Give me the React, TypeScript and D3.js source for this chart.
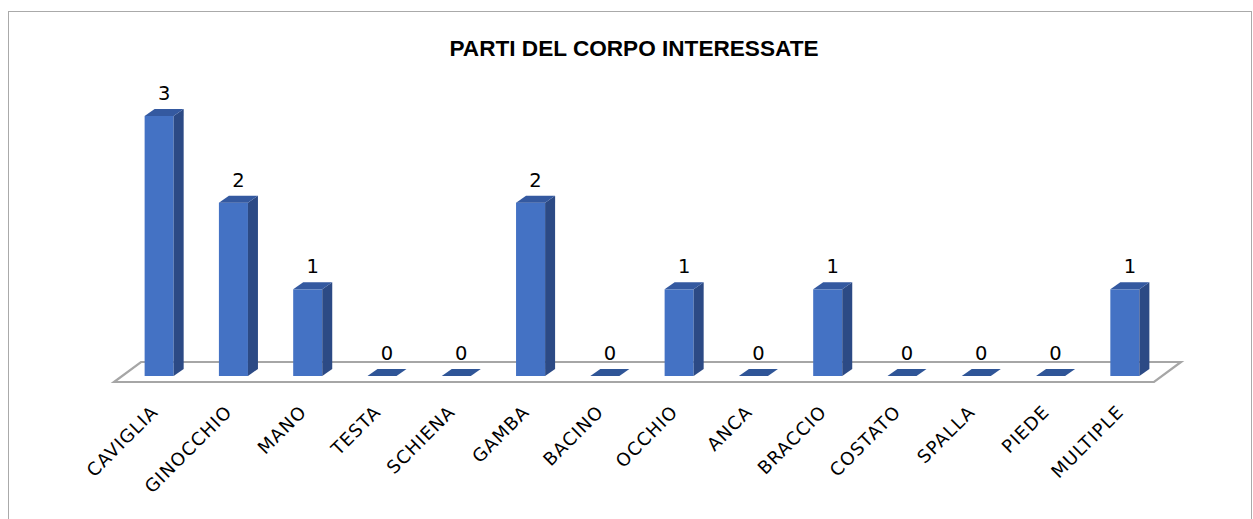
import React from "react";
import * as d3 from "d3";

const categories = ["CAVIGLIA","GINOCCHIO","MANO","TESTA","SCHIENA","GAMBA","BACINO","OCCHIO","ANCA","BRACCIO","COSTATO","SPALLA","PIEDE","MULTIPLE"];
const values = [3,2,1,0,0,2,0,1,0,1,0,0,0,1];
const title = "PARTI DEL CORPO INTERESSATE";

const W = 1253, H = 519;
const floorFront = { x0: 114, x1: 1154, y: 382 };
const floorDepth = { dx: 27, dy: -20 };
const barOffset = { dx: 8, dy: -6 };
const barDepth = { dx: 10, dy: -7 };

export default function App() {
  const x = d3.scaleBand<string>().domain(categories).range([floorFront.x0, floorFront.x1]).paddingInner(0.609).paddingOuter(0.3045);
  const baseY = floorFront.y + barOffset.dy;
  const y = d3.scaleLinear().domain([0, 3]).range([baseY, 116]);
  const bw = x.bandwidth();
  const font = "'DejaVu Sans', sans-serif";
  const floorPath = d3.path();
  floorPath.moveTo(floorFront.x0, floorFront.y);
  floorPath.lineTo(floorFront.x1, floorFront.y);
  floorPath.lineTo(floorFront.x1 + floorDepth.dx, floorFront.y + floorDepth.dy);
  floorPath.lineTo(floorFront.x0 + floorDepth.dx, floorFront.y + floorDepth.dy);
  floorPath.closePath();
  return (
    <svg width={W} height={H} style={{ position: "absolute", left: 0, top: 0 }}>
      <rect x={0} y={0} width={W} height={H} fill="#fff" />
      <rect x={8.5} y={11.5} width={1243} height={530} fill="none" stroke="#aaaaaa" strokeWidth={1} />
      <text x={634} y={56} textAnchor="middle" fontFamily="'Liberation Sans', Arial, sans-serif" fontWeight="bold" fontSize={22.6} fill="#000">{title}</text>
      <path d={floorPath.toString()} fill="#fff" stroke="#a6a6a6" strokeWidth={2.2} />
      {categories.map((c, i) => {
        const v = values[i];
        const x0 = (x(c) as number) + barOffset.dx;
        const x1 = x0 + bw;
        const yt = y(v);
        const dx = barDepth.dx, dy = barDepth.dy;
        const top = `M${x0},${yt}L${x1},${yt}L${x1 + dx},${yt + dy}L${x0 + dx},${yt + dy}Z`;
        const side = `M${x1},${yt}L${x1},${baseY}L${x1 + dx},${baseY + dy}L${x1 + dx},${yt + dy}Z`;
        return (
          <g key={c}>
            {v > 0 && <rect x={x0} y={yt} width={bw} height={baseY - yt} fill="#4472c4" />}
            {v > 0 && <path d={side} fill="#2c4a85" />}
            <path d={top} fill={v > 0 ? "#3459a0" : "#2f5597"} />
            <text x={x0 + bw / 2 + dx / 2} y={yt + dy - 9} textAnchor="middle" fontFamily={font} fontSize={19.5} fill="#000">{v}</text>
            <text transform={`translate(${x0 + bw / 2},413) rotate(-45)`} textAnchor="end" fontFamily={font} fontSize={18} letterSpacing={1.1} fill="#000">{c}</text>
          </g>
        );
      })}
    </svg>
  );
}
